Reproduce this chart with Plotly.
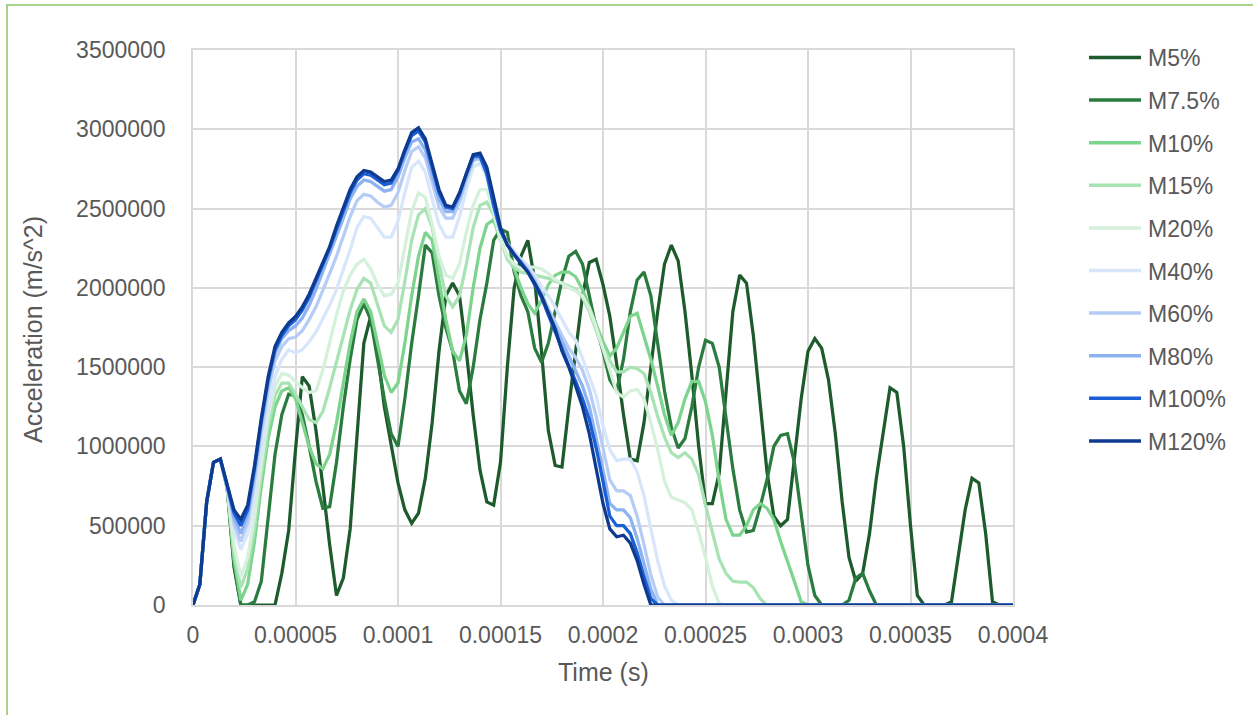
import plotly.graph_objects as go

# ---------------- data ----------------
time_step = 1 / 300000  # s between samples
n_samples = 121
times = [i * time_step for i in range(n_samples)]

series_names = ["M5%", "M7.5%", "M10%", "M15%", "M20%", "M40%", "M60%", "M80%", "M100%", "M120%"]

m5 = [0, 130000, 650000, 900000, 920000, 740000, 240000, 0, 0, 0,
      0, 0, 0, 200000, 470000, 980000, 1440000, 1380000, 1100000, 750000,
      380000, 60000, 170000, 480000, 1050000, 1650000, 1820000, 1600000, 1250000, 1000000,
      770000, 600000, 515000, 580000, 800000, 1150000, 1600000, 1950000, 2030000, 1950000,
      1600000, 1200000, 850000, 650000, 630000, 900000, 1500000, 2000000, 2200000, 2300000,
      2050000, 1600000, 1100000, 880000, 870000, 1250000, 1600000, 1950000, 2160000, 2180000,
      2020000, 1820000, 1520000, 1200000, 920000, 910000, 1150000, 1500000, 1850000, 2150000,
      2270000, 2170000, 1850000, 1450000, 1000000, 640000, 640000, 830000, 1350000, 1850000,
      2080000, 2030000, 1700000, 1250000, 840000, 560000, 500000, 540000, 900000, 1300000,
      1600000, 1680000, 1620000, 1420000, 1080000, 650000, 300000, 150000, 200000, 450000,
      800000, 1100000, 1370000, 1340000, 1000000, 500000, 60000, 0, 0, 0,
      0, 20000, 300000, 600000, 800000, 770000, 450000, 20000, 0, 0,
      0]

m7_5 = [0, 130000, 650000, 900000, 920000, 740000, 260000, 0, 0, 20000,
        150000, 550000, 950000, 1200000, 1330000, 1320000, 1200000, 1000000, 780000, 610000,
        620000, 900000, 1250000, 1550000, 1800000, 1900000, 1800000, 1550000, 1300000, 1080000,
        1000000, 1300000, 1650000, 1950000, 2270000, 2220000, 1950000, 1750000, 1600000, 1350000,
        1270000, 1500000, 1800000, 2030000, 2300000, 2370000, 2350000, 2100000, 1950000, 1850000,
        1620000, 1530000, 1650000, 1850000, 2050000, 2200000, 2230000, 2150000, 1950000, 1750000,
        1600000, 1420000, 1350000, 1550000, 1850000, 2050000, 2100000, 1950000, 1650000, 1350000,
        1120000, 990000, 1050000, 1250000, 1500000, 1670000, 1650000, 1500000, 1180000, 860000,
        600000, 460000, 470000, 620000, 790000, 1000000, 1070000, 1080000, 900000, 560000,
        250000, 60000, 0, 0, 0, 0, 30000, 170000, 200000, 90000,
        0, 0, 0, 0, 0, 0, 0, 0, 0, 0,
        0, 0, 0, 0, 0, 0, 0, 0, 0, 0,
        0]

m10 = [0, 130000, 650000, 900000, 920000, 740000, 290000, 30000, 130000, 400000,
       750000, 1050000, 1250000, 1350000, 1370000, 1300000, 1150000, 1000000, 890000, 860000,
       950000, 1150000, 1400000, 1650000, 1850000, 1930000, 1850000, 1650000, 1450000, 1340000,
       1400000, 1650000, 1950000, 2200000, 2350000, 2300000, 2050000, 1800000, 1600000, 1540000,
       1700000, 2000000, 2250000, 2400000, 2430000, 2300000, 2200000, 2120000, 2000000, 1900000,
       1840000, 1920000, 2020000, 2080000, 2100000, 2100000, 2070000, 1990000, 1880000, 1770000,
       1660000, 1570000, 1620000, 1720000, 1820000, 1840000, 1700000, 1550000, 1380000, 1200000,
       1070000, 1150000, 1300000, 1410000, 1410000, 1280000, 1070000, 780000, 540000, 440000,
       440000, 500000, 600000, 640000, 610000, 540000, 400000, 280000, 150000, 20000,
       0, 0, 0, 0, 0, 0, 0, 0, 0, 0,
       0, 0, 0, 0, 0, 0, 0, 0, 0, 0,
       0, 0, 0, 0, 0, 0, 0, 0, 0, 0,
       0]

m15 = [0, 130000, 650000, 900000, 920000, 740000, 330000, 110000, 230000, 480000,
       820000, 1120000, 1320000, 1400000, 1400000, 1330000, 1250000, 1170000, 1150000, 1220000,
       1370000, 1540000, 1700000, 1860000, 1990000, 2060000, 2030000, 1900000, 1760000, 1720000,
       1800000, 2040000, 2300000, 2460000, 2500000, 2380000, 2150000, 1950000, 1880000, 1950000,
       2150000, 2380000, 2520000, 2540000, 2460000, 2300000, 2180000, 2130000, 2100000, 2090000,
       2080000, 2070000, 2060000, 2040000, 2030000, 2010000, 1990000, 1940000, 1850000, 1730000,
       1620000, 1540000, 1470000, 1470000, 1500000, 1490000, 1460000, 1340000, 1190000, 1060000,
       960000, 930000, 960000, 920000, 820000, 630000, 450000, 290000, 200000, 150000,
       145000, 145000, 110000, 40000, 0, 0, 0, 0, 0, 0,
       0, 0, 0, 0, 0, 0, 0, 0, 0, 0,
       0, 0, 0, 0, 0, 0, 0, 0, 0, 0,
       0, 0, 0, 0, 0, 0, 0, 0, 0, 0,
       0]

m20 = [0, 130000, 650000, 900000, 920000, 740000, 380000, 180000, 300000, 560000,
       890000, 1190000, 1380000, 1460000, 1450000, 1410000, 1370000, 1340000, 1350000, 1480000,
       1660000, 1830000, 1980000, 2080000, 2150000, 2180000, 2120000, 2020000, 1950000, 1960000,
       2030000, 2250000, 2480000, 2600000, 2570000, 2400000, 2200000, 2080000, 2060000, 2150000,
       2350000, 2520000, 2620000, 2620000, 2480000, 2300000, 2200000, 2150000, 2120000, 2130000,
       2130000, 2120000, 2090000, 2050000, 2030000, 2000000, 1980000, 1950000, 1870000, 1750000,
       1620000, 1480000, 1340000, 1310000, 1350000, 1360000, 1300000, 1150000, 980000, 780000,
       680000, 660000, 645000, 600000, 460000, 300000, 120000, 10000, 0, 0,
       0, 0, 0, 0, 0, 0, 0, 0, 0, 0,
       0, 0, 0, 0, 0, 0, 0, 0, 0, 0,
       0, 0, 0, 0, 0, 0, 0, 0, 0, 0,
       0, 0, 0, 0, 0, 0, 0, 0, 0, 0,
       0]

m40 = [0, 130000, 650000, 900000, 920000, 750000, 470000, 350000, 450000, 680000,
       980000, 1250000, 1440000, 1550000, 1610000, 1590000, 1610000, 1660000, 1720000, 1800000,
       1890000, 1990000, 2110000, 2240000, 2380000, 2450000, 2440000, 2380000, 2320000, 2320000,
       2420000, 2600000, 2760000, 2800000, 2730000, 2560000, 2400000, 2320000, 2320000, 2450000,
       2620000, 2760000, 2790000, 2700000, 2510000, 2360000, 2280000, 2230000, 2180000, 2140000,
       2080000, 2010000, 1950000, 1880000, 1800000, 1720000, 1670000, 1560000, 1440000, 1320000,
       1130000, 980000, 910000, 920000, 920000, 840000, 690000, 480000, 280000, 120000,
       30000, 0, 0, 0, 0, 0, 0, 0, 0, 0,
       0, 0, 0, 0, 0, 0, 0, 0, 0, 0,
       0, 0, 0, 0, 0, 0, 0, 0, 0, 0,
       0, 0, 0, 0, 0, 0, 0, 0, 0, 0,
       0, 0, 0, 0, 0, 0, 0, 0, 0, 0,
       0]

m60 = [0, 130000, 650000, 900000, 920000, 750000, 510000, 400000, 520000, 780000,
       1090000, 1350000, 1540000, 1630000, 1680000, 1690000, 1730000, 1800000, 1880000, 1980000,
       2090000, 2200000, 2320000, 2450000, 2550000, 2590000, 2580000, 2540000, 2510000, 2520000,
       2600000, 2740000, 2860000, 2890000, 2820000, 2660000, 2510000, 2440000, 2440000, 2540000,
       2680000, 2800000, 2820000, 2710000, 2520000, 2360000, 2280000, 2220000, 2170000, 2120000,
       2050000, 1970000, 1870000, 1780000, 1700000, 1620000, 1560000, 1480000, 1360000, 1190000,
       990000, 790000, 720000, 720000, 690000, 560000, 380000, 190000, 50000, 0,
       0, 0, 0, 0, 0, 0, 0, 0, 0, 0,
       0, 0, 0, 0, 0, 0, 0, 0, 0, 0,
       0, 0, 0, 0, 0, 0, 0, 0, 0, 0,
       0, 0, 0, 0, 0, 0, 0, 0, 0, 0,
       0, 0, 0, 0, 0, 0, 0, 0, 0, 0,
       0]

m80 = [0, 130000, 650000, 900000, 920000, 750000, 550000, 450000, 570000, 830000,
       1140000, 1400000, 1590000, 1680000, 1730000, 1760000, 1810000, 1890000, 1990000, 2100000,
       2210000, 2320000, 2440000, 2560000, 2640000, 2680000, 2670000, 2640000, 2610000, 2620000,
       2700000, 2820000, 2920000, 2940000, 2870000, 2710000, 2560000, 2480000, 2480000, 2570000,
       2700000, 2810000, 2830000, 2720000, 2520000, 2360000, 2270000, 2210000, 2160000, 2110000,
       2030000, 1950000, 1850000, 1750000, 1660000, 1570000, 1480000, 1380000, 1250000, 1060000,
       850000, 640000, 600000, 600000, 550000, 420000, 260000, 100000, 0, 0,
       0, 0, 0, 0, 0, 0, 0, 0, 0, 0,
       0, 0, 0, 0, 0, 0, 0, 0, 0, 0,
       0, 0, 0, 0, 0, 0, 0, 0, 0, 0,
       0, 0, 0, 0, 0, 0, 0, 0, 0, 0,
       0, 0, 0, 0, 0, 0, 0, 0, 0, 0,
       0]

m100 = [0, 130000, 650000, 900000, 920000, 750000, 580000, 500000, 600000, 860000,
        1160000, 1420000, 1610000, 1700000, 1760000, 1800000, 1860000, 1940000, 2040000, 2150000,
        2250000, 2370000, 2480000, 2600000, 2680000, 2720000, 2710000, 2680000, 2650000, 2660000,
        2740000, 2860000, 2960000, 2990000, 2920000, 2760000, 2600000, 2510000, 2500000, 2590000,
        2720000, 2830000, 2830000, 2720000, 2520000, 2360000, 2270000, 2210000, 2160000, 2100000,
        2020000, 1940000, 1830000, 1720000, 1620000, 1510000, 1410000, 1300000, 1170000, 990000,
        780000, 560000, 500000, 500000, 450000, 330000, 180000, 40000, 0, 0,
        0, 0, 0, 0, 0, 0, 0, 0, 0, 0,
        0, 0, 0, 0, 0, 0, 0, 0, 0, 0,
        0, 0, 0, 0, 0, 0, 0, 0, 0, 0,
        0, 0, 0, 0, 0, 0, 0, 0, 0, 0,
        0, 0, 0, 0, 0, 0, 0, 0, 0, 0,
        0]

m120 = [0, 130000, 650000, 900000, 920000, 750000, 600000, 540000, 630000, 880000,
        1180000, 1440000, 1630000, 1720000, 1780000, 1820000, 1880000, 1960000, 2060000, 2170000,
        2260000, 2390000, 2500000, 2620000, 2700000, 2740000, 2730000, 2700000, 2670000, 2680000,
        2750000, 2870000, 2980000, 3010000, 2940000, 2780000, 2620000, 2520000, 2510000, 2600000,
        2720000, 2840000, 2850000, 2760000, 2570000, 2380000, 2270000, 2210000, 2150000, 2100000,
        2030000, 1950000, 1840000, 1740000, 1600000, 1500000, 1380000, 1250000, 1080000, 850000,
        640000, 480000, 430000, 440000, 390000, 280000, 130000, 0, 0, 0,
        0, 0, 0, 0, 0, 0, 0, 0, 0, 0,
        0, 0, 0, 0, 0, 0, 0, 0, 0, 0,
        0, 0, 0, 0, 0, 0, 0, 0, 0, 0,
        0, 0, 0, 0, 0, 0, 0, 0, 0, 0,
        0, 0, 0, 0, 0, 0, 0, 0, 0, 0,
        0]

series_values = [m5, m7_5, m10, m15, m20, m40, m60, m80, m100, m120]
series_colors = ["#1d5a2c", "#2a7b3e", "#7cd48d", "#a8e3b4", "#d5f0db",
                 "#d8e6fb", "#b5cdf6", "#8cb2f1", "#1a5fd6", "#0e3a90"]

x_tick_vals = [0, 0.00005, 0.0001, 0.00015, 0.0002, 0.00025, 0.0003, 0.00035, 0.0004]
x_tick_labels = ["0", "0.00005", "0.0001", "0.00015", "0.0002", "0.00025", "0.0003", "0.00035", "0.0004"]
y_tick_vals = [0, 500000, 1000000, 1500000, 2000000, 2500000, 3000000, 3500000]
y_tick_labels = ["0", "500000", "1000000", "1500000", "2000000", "2500000", "3000000", "3500000"]

# ---------------- layout geometry (pixels) ----------------
W, H = 1253, 715
PL, PR, PT, PB = 193, 1013, 50, 605
TEXT = "#595959"
GRID = "#d9d9d9"
FONT = "Liberation Sans, Arial, sans-serif"


def px(xp):
    return (xp - PL) / (PR - PL)


def py(yp):
    return (PB - yp) / (PB - PT)


fig = go.Figure()
for name, vals, col in zip(series_names, series_values, series_colors):
    fig.add_trace(go.Scatter(x=times, y=vals, mode="lines", name=name,
                             line=dict(color=col, width=3.25), showlegend=False,
                             hoverinfo="x+y+name"))

shapes = []
annotations = []

# legend drawn manually (long line samples like the reference)
leg_y0 = 57.5
leg_dy = 42.6
for k, (name, col) in enumerate(zip(series_names, series_colors)):
    yy = leg_y0 + k * leg_dy
    shapes.append(dict(type="line", xref="paper", yref="paper",
                       x0=px(1089), x1=px(1141), y0=py(yy), y1=py(yy),
                       line=dict(color=col, width=3.5)))
    annotations.append(dict(text=name, xref="paper", yref="paper",
                            x=px(1146), y=py(yy + 1), xanchor="left", yanchor="middle",
                            showarrow=False, font=dict(family=FONT, size=23, color=TEXT)))

# axis titles
annotations.append(dict(text="Time (s)", xref="paper", yref="paper",
                        x=px(603), y=py(672), xanchor="center", yanchor="middle",
                        showarrow=False, font=dict(family=FONT, size=25, color=TEXT)))
annotations.append(dict(text="Acceleration (m/s^2)", xref="paper", yref="paper",
                        x=px(33), y=py(330), xanchor="center", yanchor="middle",
                        textangle=-90, showarrow=False,
                        font=dict(family=FONT, size=25, color=TEXT)))

# light green frame of the chart area (left and top edges)
shapes.append(dict(type="line", xref="paper", yref="paper",
                   x0=px(7), x1=px(7), y0=py(5), y1=py(716),
                   line=dict(color="#a9d18e", width=2)))
shapes.append(dict(type="line", xref="paper", yref="paper",
                   x0=px(6), x1=px(1254), y0=py(5), y1=py(5),
                   line=dict(color="#a9d18e", width=2)))

fig.update_layout(
    width=W, height=H,
    margin=dict(l=PL, r=W - PR, t=PT, b=H - PB, pad=0),
    paper_bgcolor="white", plot_bgcolor="white",
    font=dict(family=FONT, color=TEXT),
    shapes=shapes, annotations=annotations,
    showlegend=False,
    xaxis=dict(range=[0, 0.0004], tickmode="array", tickvals=x_tick_vals,
               ticktext=x_tick_labels, showgrid=True, gridcolor=GRID, gridwidth=1.5,
               zeroline=False, showline=True, linecolor=GRID, linewidth=1.5, mirror=True,
               ticks="", tickfont=dict(family=FONT, size=23, color=TEXT),
               ticklabelstandoff=9),
    yaxis=dict(range=[0, 3500000], tickmode="array", tickvals=y_tick_vals,
               ticktext=y_tick_labels, showgrid=True, gridcolor=GRID, gridwidth=1.5,
               zeroline=False, showline=True, linecolor=GRID, linewidth=1.5, mirror=True,
               ticks="", tickfont=dict(family=FONT, size=23, color=TEXT),
               ticklabelstandoff=21),
)

fig.write_html("out.html")
